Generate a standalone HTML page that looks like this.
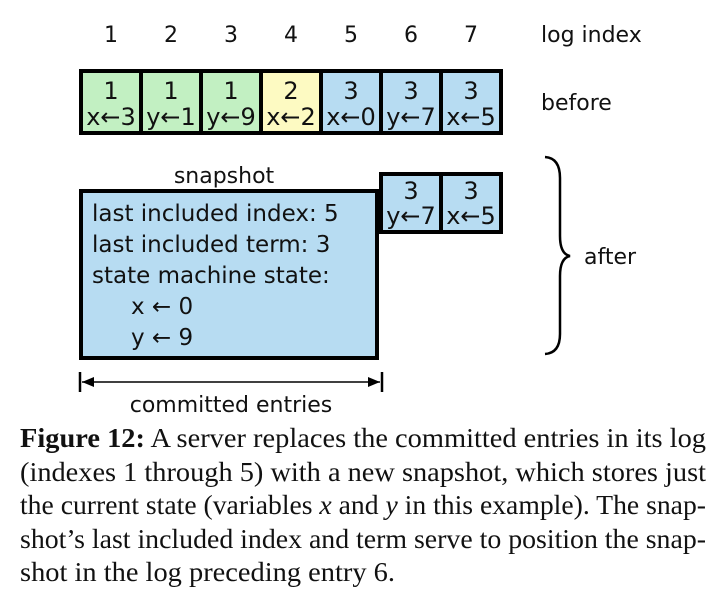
<!DOCTYPE html>
<html><head><meta charset="utf-8"><style>
html,body{margin:0;padding:0;background:#fff;}
svg{display:block;}
.s{font-family:"DejaVu Sans","Liberation Sans",sans-serif;font-size:22px;fill:#111;}
.cell{font-size:24px;}
.c{font-family:"Liberation Serif",serif;font-size:27px;fill:#111;}
</style></head><body>
<svg width="720" height="592" viewBox="0 0 720 592" xmlns="http://www.w3.org/2000/svg">
<g class="s" text-anchor="middle">
<text x="111" y="42">1</text><text x="171" y="42">2</text><text x="231" y="42">3</text><text x="291" y="42">4</text><text x="351" y="42">5</text><text x="411" y="42">6</text><text x="471" y="42">7</text>
</g>
<text class="s" x="541" y="42">log index</text>
<text class="s" x="541" y="110">before</text>
<g stroke="#000" stroke-width="4">
<rect x="81" y="71" width="60" height="62" fill="#c2f0c2"/>
<rect x="141" y="71" width="60" height="62" fill="#c2f0c2"/>
<rect x="201" y="71" width="60" height="62" fill="#c2f0c2"/>
<rect x="261" y="71" width="60" height="62" fill="#fdfac2"/>
<rect x="321" y="71" width="60" height="62" fill="#b7dcf2"/>
<rect x="381" y="71" width="60" height="62" fill="#b7dcf2"/>
<rect x="441" y="71" width="60" height="62" fill="#b7dcf2"/>
<rect x="381" y="174" width="60" height="58" fill="#b7dcf2"/>
<rect x="441" y="174" width="60" height="58" fill="#b7dcf2"/>
<rect x="81" y="191" width="296" height="167" fill="#b7dcf2"/>
</g>
<g class="s cell" text-anchor="middle">
<text x="111" y="99">1</text><text x="111" y="125">x←3</text>
<text x="171" y="99">1</text><text x="171" y="125">y←1</text>
<text x="231" y="99">1</text><text x="231" y="125">y←9</text>
<text x="291" y="99">2</text><text x="291" y="125">x←2</text>
<text x="351" y="99">3</text><text x="351" y="125">x←0</text>
<text x="411" y="99">3</text><text x="411" y="125">y←7</text>
<text x="471" y="99">3</text><text x="471" y="125">x←5</text>
<text x="411" y="199">3</text><text x="411" y="224">y←7</text>
<text x="471" y="199">3</text><text x="471" y="224">x←5</text>
</g>
<g class="s" text-anchor="middle">
<text x="224" y="183">snapshot</text>
<text x="231" y="412">committed entries</text>
</g>
<g class="s" style="font-size:23px">
<text x="92" y="221">last included index: 5</text>
<text x="92" y="252">last included term: 3</text>
<text x="92" y="283">state machine state:</text>
<text x="131" y="314">x ← 0</text>
<text x="131" y="345">y ← 9</text>
</g>
<text class="s" x="584" y="264">after</text>
<path d="M545 157 Q560 158 560 178 L560 236 Q560 254 570 256 Q560 258 560 276 L560 334 Q560 353 545 354" fill="none" stroke="#000" stroke-width="2.5"/>
<g stroke="#000" stroke-width="2.5">
<line x1="80" y1="372" x2="80" y2="392"/><line x1="382" y1="372" x2="382" y2="392"/>
<line x1="82" y1="382" x2="380" y2="382" stroke-width="1.5"/>
</g>
<polygon points="82,382 94,377 94,387" fill="#000"/><polygon points="380,382 368,377 368,387" fill="#000"/>
<text class="c" x="20" y="447" textLength="686" lengthAdjust="spacingAndGlyphs"><tspan font-weight="bold">Figure 12:</tspan> A server replaces the committed entries in its log</text>
<text class="c" x="20" y="481" textLength="686" lengthAdjust="spacingAndGlyphs">(indexes 1 through 5) with a new snapshot, which stores just</text>
<text class="c" x="20" y="514" textLength="686" lengthAdjust="spacingAndGlyphs">the current state (variables <tspan font-style="italic">x</tspan> and <tspan font-style="italic">y</tspan> in this example). The snap-</text>
<text class="c" x="20" y="548" textLength="686" lengthAdjust="spacingAndGlyphs">shot’s last included index and term serve to position the snap-</text>
<text class="c" x="20" y="581" textLength="375" lengthAdjust="spacingAndGlyphs">shot in the log preceding entry 6.</text>
</svg>
</body></html>
